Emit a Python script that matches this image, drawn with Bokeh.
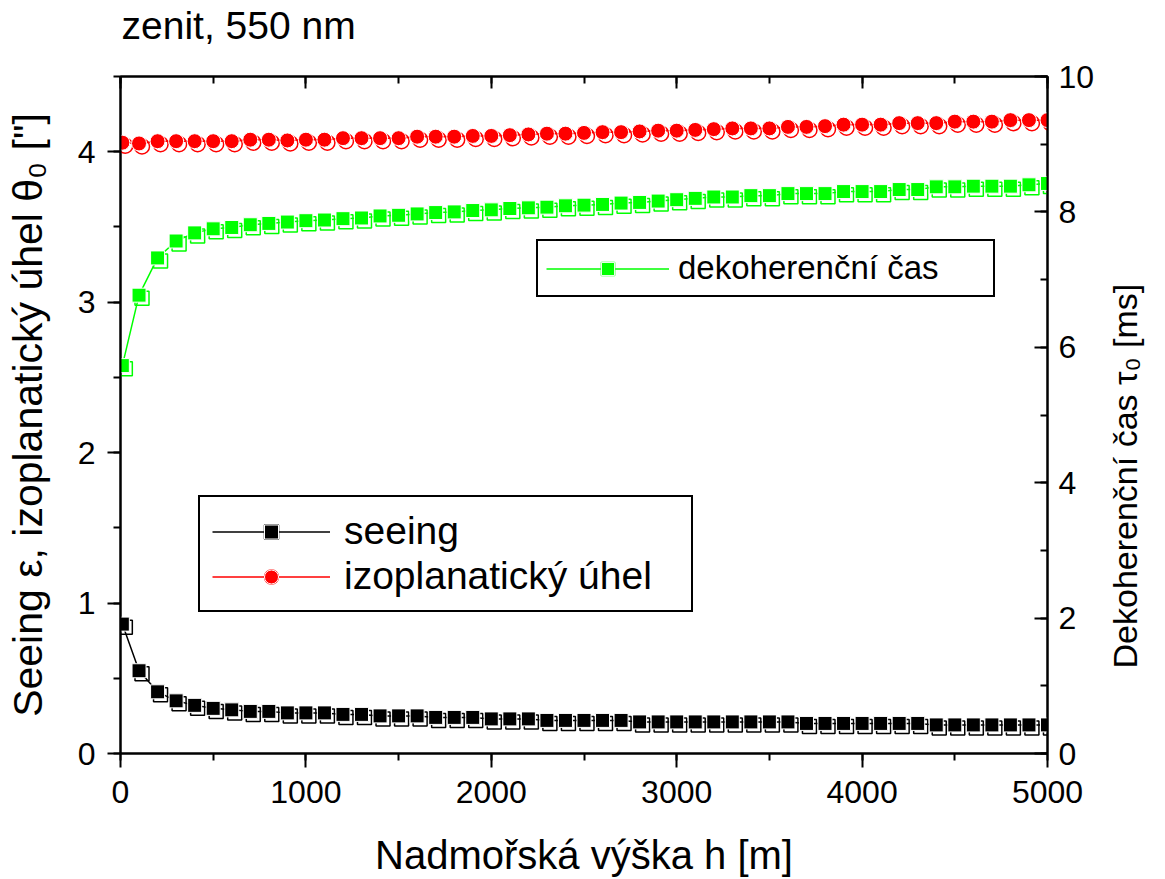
import math
from bokeh.plotting import figure
from bokeh.models import (Range1d, LinearAxis, SingleIntervalTicker, FixedTicker, Legend,
                          LegendItem, ColumnDataSource, CustomJSTickFormatter)
from bokeh.transform import dodge
from bokeh.embed import file_html
from bokeh.resources import INLINE

# ---------------- data ----------------
altitude_m = [10, 100, 200, 300, 400, 500, 600, 700, 800, 900,
              1000, 1100, 1200, 1300, 1400, 1500, 1600, 1700, 1800, 1900,
              2000, 2100, 2200, 2300, 2400, 2500, 2600, 2700, 2800, 2900,
              3000, 3100, 3200, 3300, 3400, 3500, 3600, 3700, 3800, 3900,
              4000, 4100, 4200, 4300, 4400, 4500, 4600, 4700, 4800, 4900, 5000]

seeing_arcsec = [0.86, 0.55, 0.41, 0.35, 0.32, 0.30, 0.29, 0.28, 0.28, 0.27,
                 0.27, 0.27, 0.26, 0.26, 0.25, 0.25, 0.25, 0.24, 0.24, 0.24,
                 0.23, 0.23, 0.23, 0.22, 0.22, 0.22, 0.22, 0.22, 0.21, 0.21,
                 0.21, 0.21, 0.21, 0.21, 0.21, 0.21, 0.21, 0.20, 0.20, 0.20,
                 0.20, 0.20, 0.20, 0.20, 0.19, 0.19, 0.19, 0.19, 0.19, 0.19, 0.19]

isoplanatic_arcsec = [4.06, 4.055, 4.07, 4.07, 4.07, 4.07, 4.07, 4.08, 4.08, 4.075,
                      4.08, 4.08, 4.09, 4.09, 4.09, 4.09, 4.10, 4.10, 4.10, 4.105,
                      4.105, 4.11, 4.115, 4.12, 4.12, 4.125, 4.13, 4.13, 4.135, 4.14,
                      4.14, 4.145, 4.15, 4.155, 4.155, 4.155, 4.165, 4.165, 4.17, 4.18,
                      4.18, 4.18, 4.19, 4.19, 4.19, 4.20, 4.20, 4.20, 4.21, 4.21, 4.21]

coherence_ms = [5.73, 6.77, 7.32, 7.57, 7.69, 7.75, 7.77, 7.81, 7.83, 7.85,
                7.87, 7.88, 7.90, 7.91, 7.94, 7.95, 7.97, 7.99, 8.00, 8.02,
                8.03, 8.05, 8.06, 8.07, 8.09, 8.10, 8.11, 8.13, 8.14, 8.16,
                8.18, 8.20, 8.22, 8.22, 8.24, 8.24, 8.27, 8.27, 8.27, 8.30,
                8.30, 8.30, 8.33, 8.33, 8.37, 8.37, 8.38, 8.38, 8.38, 8.40, 8.42]

series_names = ["seeing", "izoplanatický úhel", "dekoherenční čas"]
title_text = "zenit, 550 nm"
x_label = "Nadmořská výška h [m]"
y_label = "Seeing ε, izoplanatický úhel θ₀ [\"]"
y2_label = "Dekoherenční čas τ₀ [ms]"

FONT = "Liberation Sans"
NBSP = "\u00a0"

src = ColumnDataSource(dict(x=altitude_m, seeing=seeing_arcsec,
                            iso=isoplanatic_arcsec, tau=coherence_ms))

p = figure(width=1165, height=879, output_backend="svg", toolbar_location=None,
           x_range=Range1d(0, 5000), y_range=Range1d(0, 4.5),
           x_axis_location=None, y_axis_location=None,
           min_border_left=120, min_border_right=118,
           min_border_top=76, min_border_bottom=122)
p.extra_y_ranges = {"tau": Range1d(0, 10)}
p.grid.visible = False
p.outline_line_color = "black"
p.outline_line_width = 2
p.outline_line_alpha = 1
p.background_fill_color = "white"
p.border_fill_color = "white"

p.title.text = title_text
p.title.text_font = FONT
p.title.text_font_size = "39px"
p.title.text_font_style = "normal"
p.title.text_color = "black"
p.title.align = "left"
p.title.offset = 1
p.title.standoff = 2


def style_axis(ax, label_size="40px"):
    ax.axis_line_width = 2
    ax.major_tick_line_width = 2
    ax.minor_tick_line_width = 2
    ax.major_label_text_font = FONT
    ax.major_label_text_font_size = "32px"
    ax.major_label_text_color = "black"
    ax.axis_label_text_font = FONT
    ax.axis_label_text_font_size = label_size
    ax.axis_label_text_font_style = "normal"
    ax.axis_label_text_color = "black"


bottom = LinearAxis(ticker=SingleIntervalTicker(interval=1000, num_minor_ticks=2),
                    axis_label=x_label)
style_axis(bottom)
bottom.major_tick_out = 14
bottom.major_tick_in = 0
bottom.minor_tick_out = 7
bottom.minor_tick_in = 0
bottom.major_label_standoff = 13
bottom.axis_label_standoff = 27
p.add_layout(bottom, "below")

# top frame axis: inward ticks only; a blank label keeps the title clear of the frame
top = LinearAxis(ticker=SingleIntervalTicker(interval=1000, num_minor_ticks=2),
                 formatter=CustomJSTickFormatter(code="return ''"),
                 axis_label=NBSP)
style_axis(top, "1px")
top.major_tick_out = 0
top.major_tick_in = 12
top.minor_tick_out = 0
top.minor_tick_in = 7
top.major_label_standoff = 0
top.major_label_text_font_size = "1px"
top.axis_label_standoff = 25
p.add_layout(top, "above")

left = LinearAxis(ticker=SingleIntervalTicker(interval=1, num_minor_ticks=2),
                  axis_label=y_label)
style_axis(left, "41px")
left.major_tick_out = 13
left.major_tick_in = 0
left.minor_tick_out = 7
left.minor_tick_in = 0
left.major_label_standoff = 12
left.axis_label_standoff = 24
p.add_layout(left, "left")

# right axis: ticks and numbers
right = LinearAxis(y_range_name="tau",
                   ticker=SingleIntervalTicker(interval=2, num_minor_ticks=2))
style_axis(right)
right.major_tick_out = 0
right.major_tick_in = 13
right.minor_tick_out = 0
right.minor_tick_in = 7
right.major_label_standoff = 11
p.add_layout(right, "right")

# right axis title, reading bottom-to-top, low on the axis
right_title = LinearAxis(y_range_name="tau", ticker=FixedTicker(ticks=[]))
style_axis(right_title, "34px")
right_title.axis_line_color = None
right_title.major_tick_line_color = None
right_title.minor_tick_line_color = None
right_title.axis_label_standoff = 27
if "axis_label_align" in LinearAxis.properties():
    right_title.axis_label_orientation = math.pi / 2
    right_title.axis_label_align = "start"
    right_title.axis_label = NBSP * 9 + y2_label
else:
    right_title.axis_label = NBSP * 13 + y2_label
p.add_layout(right_title, "right")

BLACK, RED, GREEN = "black", "#ff0000", "#00ff00"
DX = 16  # small marker shadow offset in data units (x)

# seeing (black squares)
l1 = p.line("x", "seeing", source=src, color=BLACK, line_width=1.5)
h1 = p.scatter(dodge("x", DX), dodge("seeing", -0.02), source=src, marker="square",
               size=14, fill_color=None, line_color=BLACK, line_width=1.5)
f1 = p.scatter("x", "seeing", source=src, marker="square", size=14,
               fill_color=BLACK, line_color="white", line_width=1)

# isoplanatic angle (red circles)
l2 = p.line("x", "iso", source=src, color=RED, line_width=1.5)
h2 = p.scatter(dodge("x", DX), dodge("iso", -0.02), source=src, marker="circle",
               size=15, fill_color=None, line_color=RED, line_width=1.5)
f2 = p.scatter("x", "iso", source=src, marker="circle", size=15,
               fill_color=RED, line_color="white", line_width=1)

# coherence time (green squares, right axis)
l3 = p.line("x", "tau", source=src, color=GREEN, line_width=1.5, y_range_name="tau")
h3 = p.scatter(dodge("x", DX), dodge("tau", -0.045), source=src, marker="square",
               size=14, fill_color=None, line_color=GREEN, line_width=1.5,
               y_range_name="tau")
f3 = p.scatter("x", "tau", source=src, marker="square", size=14,
               fill_color=GREEN, line_color="white", line_width=1, y_range_name="tau")


def style_legend(leg, size):
    leg.label_text_font = FONT
    leg.label_text_font_size = size
    leg.label_text_color = "black"
    leg.margin = 0
    leg.border_line_color = "black"
    leg.border_line_width = 2
    leg.border_line_alpha = 1
    leg.background_fill_color = "white"
    leg.background_fill_alpha = 1


leg1 = Legend(items=[LegendItem(label=series_names[0], renderers=[l1, h1, f1]),
                     LegendItem(label=series_names[1], renderers=[l2, h2, f2])],
              location=(78, 141), orientation="vertical")
style_legend(leg1, "39px")
leg1.glyph_width = 118
leg1.glyph_height = 35
leg1.label_standoff = 14
leg1.label_width = 335
leg1.padding = 12
leg1.spacing = 1
p.add_layout(leg1, "center")

leg2 = Legend(items=[LegendItem(label=series_names[2], renderers=[l3, h3, f3])],
              location=(416, 456))
style_legend(leg2, "33px")
leg2.glyph_width = 123
leg2.glyph_height = 33
leg2.label_standoff = 9
leg2.label_width = 307
leg2.padding = 8
p.add_layout(leg2, "center")

open("out.html", "w").write(file_html(p, INLINE))
